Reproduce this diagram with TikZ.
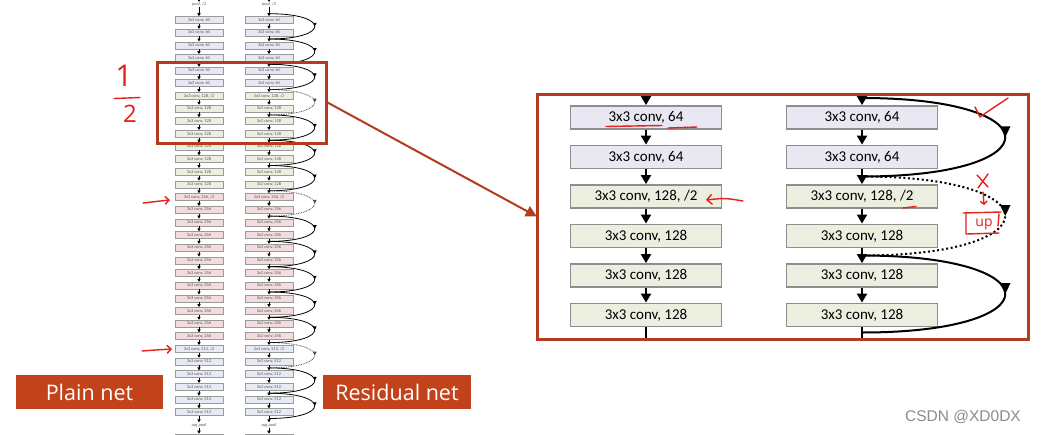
\documentclass[tikz,border=0pt]{standalone}
\usepackage{fontspec}
\setmainfont{Carlito}
\newfontfamily\labelfont{Open Sans}
\newfontfamily\wmfont{Liberation Sans}
\usetikzlibrary{arrows.meta,decorations.markings,calc}
\definecolor{c64}{HTML}{E9E8F2}
\definecolor{c128}{HTML}{ECEFE0}
\definecolor{c256}{HTML}{F2DCDE}
\definecolor{c512}{HTML}{E6EAF3}
\definecolor{frame}{HTML}{B23C1E}
\definecolor{lab}{HTML}{C2431B}
\definecolor{ink}{HTML}{E8201A}
\definecolor{bord}{HTML}{9A9A9A}
\definecolor{bordB}{HTML}{8E8E8E}
\begin{document}
\begin{tikzpicture}[x=1pt,y=-1pt,
  sbox/.style={draw=bord,line width=0.6pt,minimum width=48pt,minimum height=7pt,inner sep=0pt,font=\fontsize{4.4}{5}\selectfont,text=black!65},
  stxt/.style={inner sep=0.5pt,font=\fontsize{4.4}{5}\selectfont,text=black!65},
  sarr/.style={line width=0.8pt,-{Triangle[width=3.2pt,length=3pt]}},
  sskip/.style={line width=0.8pt,postaction={decorate},decoration={markings,mark=at position 0.5 with {\arrow{Triangle[width=3.6pt,length=3.6pt]}}}},
  sdot/.style={dash pattern=on 0.8pt off 0.9pt,draw=black!70},
  bbox/.style={draw=bordB,line width=1.8pt,minimum width=151pt,minimum height=23pt,inner sep=0pt,font=\fontsize{15}{18}\selectfont},
  barr/.style={line width=2pt,-{Triangle[width=10pt,length=9pt]}},
  bskip/.style={line width=2pt,postaction={decorate},decoration={markings,mark=at position 0.5 with {\arrow{Triangle[width=10pt,length=11pt]}}}},
  bdot/.style={dash pattern=on 2pt off 2.6pt},
  redink/.style={draw=ink,line width=1.4pt,line cap=round,line join=round},
  labbox/.style={fill=lab,text=white,minimum height=34pt,inner sep=0pt,font=\labelfont\fontsize{21.5}{24}\selectfont},
]
\useasboundingbox (0,0) rectangle (1044,434);
\clip (0,0) rectangle (1044,434);
\fill[white] (0,0) rectangle (1044,434);

% ---------- small columns ----------
\foreach \i in {0,...,31}{
  \pgfmathsetmacro\yy{20+12.65*\i}
  \ifnum\i<6 \def\clab{64}\def\col{c64}\else
   \ifnum\i<14 \def\clab{128}\def\col{c128}\else
    \ifnum\i<26 \def\clab{256}\def\col{c256}\else
     \def\clab{512}\def\col{c512}\fi\fi\fi
  \ifnum\i=6 \edef\clab{\clab, /2}\fi
  \ifnum\i=14 \edef\clab{\clab, /2}\fi
  \ifnum\i=26 \edef\clab{\clab, /2}\fi
  \node[sbox,fill=\col] (L\i) at (199,\yy) {3x3 conv, \clab};
  \node[sbox,fill=\col] (R\i) at (269,\yy) {3x3 conv, \clab};
  \coordinate (G\i) at (269,\yy-6.3);
}
\coordinate (G32) at (269,{20+12.65*32-6.3});
\foreach \c in {L,R}{
  \foreach \i in {0,...,30}{
    \pgfmathtruncatemacro\j{\i+1}
    \draw[sarr] (\c\i.south) -- (\c\j.north);
  }
}
\node[sbox,fill=c64] (Lt) at (199,-4) {};
\node[sbox,fill=c64] (Rt) at (269,-4) {};
\node[stxt] (Lp) at (199,4.5) {pool, /2};
\node[stxt] (Rp) at (269,4.5) {pool, /2};
\node[stxt] (La) at (199,425) {avg pool};
\node[stxt] (Ra) at (269,425) {avg pool};
\node[sbox,fill=white] (Lb) at (199,437.5) {};
\node[sbox,fill=white] (Rb) at (269,437.5) {};
\foreach \c in {L,R}{
  \draw[sarr] (\c t.south) -- (\c p.north);
  \draw[sarr] (\c p.south) -- (\c 0.north);
  \draw[sarr] (\c 31.south) -- (\c a.north);
  \draw[sarr] (\c a.south) -- (\c b.north);
}
\foreach \k in {0,...,15}{
  \pgfmathtruncatemacro\s{2*\k}
  \pgfmathtruncatemacro\e{2*\k+2}
  \pgfmathtruncatemacro\isdot{(\k==3)||(\k==7)||(\k==13)}
  \ifnum\isdot=1
    \draw[sskip,sdot] (G\s) .. controls ($(G\s)+(61,0)$) and ($(G\e)+(61,0)$) .. (G\e);
  \else
    \draw[sskip] (G\s) .. controls ($(G\s)+(61,0)$) and ($(G\e)+(61,0)$) .. (G\e);
  \fi
}

% ---------- highlight rectangle and connector ----------
\node[draw=frame,line width=3pt,minimum width=169pt,minimum height=81pt,inner sep=0pt] (src) at (241.5,102.5) {};
\node[minimum width=491pt,minimum height=245pt,inner sep=0pt] (big) at (782.5,216.5) {};
\draw[frame,line width=2pt,-{Triangle[width=11pt,length=11pt]}] (src.east) -- (big.west);

% ---------- enlarged view ----------
\foreach \n/\t/\c [count=\r from 0] in {1/64/c64,2/64/c64,3/{128, /2}/c128,4/128/c128,5/128/c128,6/128/c128}{
  \node[bbox,fill=\c] (B\n) at (646,{117.5+39.5*\r}) {3x3 conv, \t};
  \node[bbox,fill=\c] (C\n) at (862,{117.5+39.5*\r}) {3x3 conv, \t};
}
\coordinate (Btop) at (646,94);
\coordinate (Bbot) at (646,339);
\coordinate (Ctop) at (862,94);
\coordinate (Cbot) at (862,339);
\coordinate (A0) at (862,98);
\coordinate (A1) at (862,176.5);
\coordinate (A2) at (862,255.5);
\coordinate (A3) at (862,332.5);
\draw[barr] (Btop) -- (B1.north);
\draw[barr] (Ctop) -- (C1.north);
\foreach \i/\j in {1/2,2/3,3/4,4/5,5/6}{
  \draw[barr] (B\i.south) -- (B\j.north);
  \draw[barr] (C\i.south) -- (C\j.north);
}
\draw[line width=2pt] (B6.south) -- (Bbot);
\draw[line width=2pt] (C6.south) -- (Cbot);
\draw[bskip] (A0) .. controls ($(A0)+(191,0)$) and ($(A1)+(191,0)$) .. (A1);
\draw[bskip,bdot] (A1) .. controls ($(A1)+(191,0)$) and ($(A2)+(191,0)$) .. (A2);
\draw[bskip] (A2) .. controls ($(A2)+(191,0)$) and ($(A3)+(191,0)$) .. (A3);
\draw[frame,line width=3pt] (537,94) rectangle (1028,339);

% ---------- labels ----------
\node[labbox,minimum width=147pt] (plain) at (89.5,392) {Plain net};
\node[labbox,minimum width=148pt] (resid) at (397,392) {Residual net};
\node[font=\wmfont\fontsize{15.5}{16}\selectfont,text=black!45,inner sep=0pt] (wm) at (963,417) {CSDN @XD0DX};

% ---------- red handwritten annotations ----------
\node[text=ink,font=\labelfont\fontsize{30}{30}\selectfont,inner sep=0pt] (one) at (124,76) {1};
\draw[redink] (114,98.5) -- (140,97.5);
\node[text=ink,font=\labelfont\fontsize{24}{24}\selectfont,inner sep=0pt] (two) at (130,114) {2};
\draw[redink,-{Straight Barb[length=4pt,width=8pt]}] (143,203) .. controls (155,201) .. (170,200);
\draw[redink,-{Straight Barb[length=4pt,width=8pt]}] (142,351) .. controls (155,350) .. (172,349);
\draw[redink] (606,126.5) -- (662,125.5);
\draw[redink] (668,128) -- (697,127);
\draw[redink,-{Straight Barb[length=5pt,width=10pt]}] (743,201) .. controls (725,198) .. (706,200);
\draw[redink] (903,208) -- (916,206.5);
\draw[redink] (975,107) -- (980,117) .. controls (990,110) .. (1008,98);
\draw[redink] (977,175) -- (988,187);
\draw[redink] (988,174) -- (978,188);
\draw[redink,-{Straight Barb[length=3pt,width=7pt]}] (983,192) -- (984,205);
\draw[redink] (963,213) -- (1001,212);
\draw[redink] (966,213) -- (966,234) -- (999,233);
\node[text=ink,font=\labelfont\fontsize{14}{14}\selectfont,inner sep=0pt] (up) at (984,224) {up};
\draw[redink] (999,214) -- (998,226);
\end{tikzpicture}
\end{document}
